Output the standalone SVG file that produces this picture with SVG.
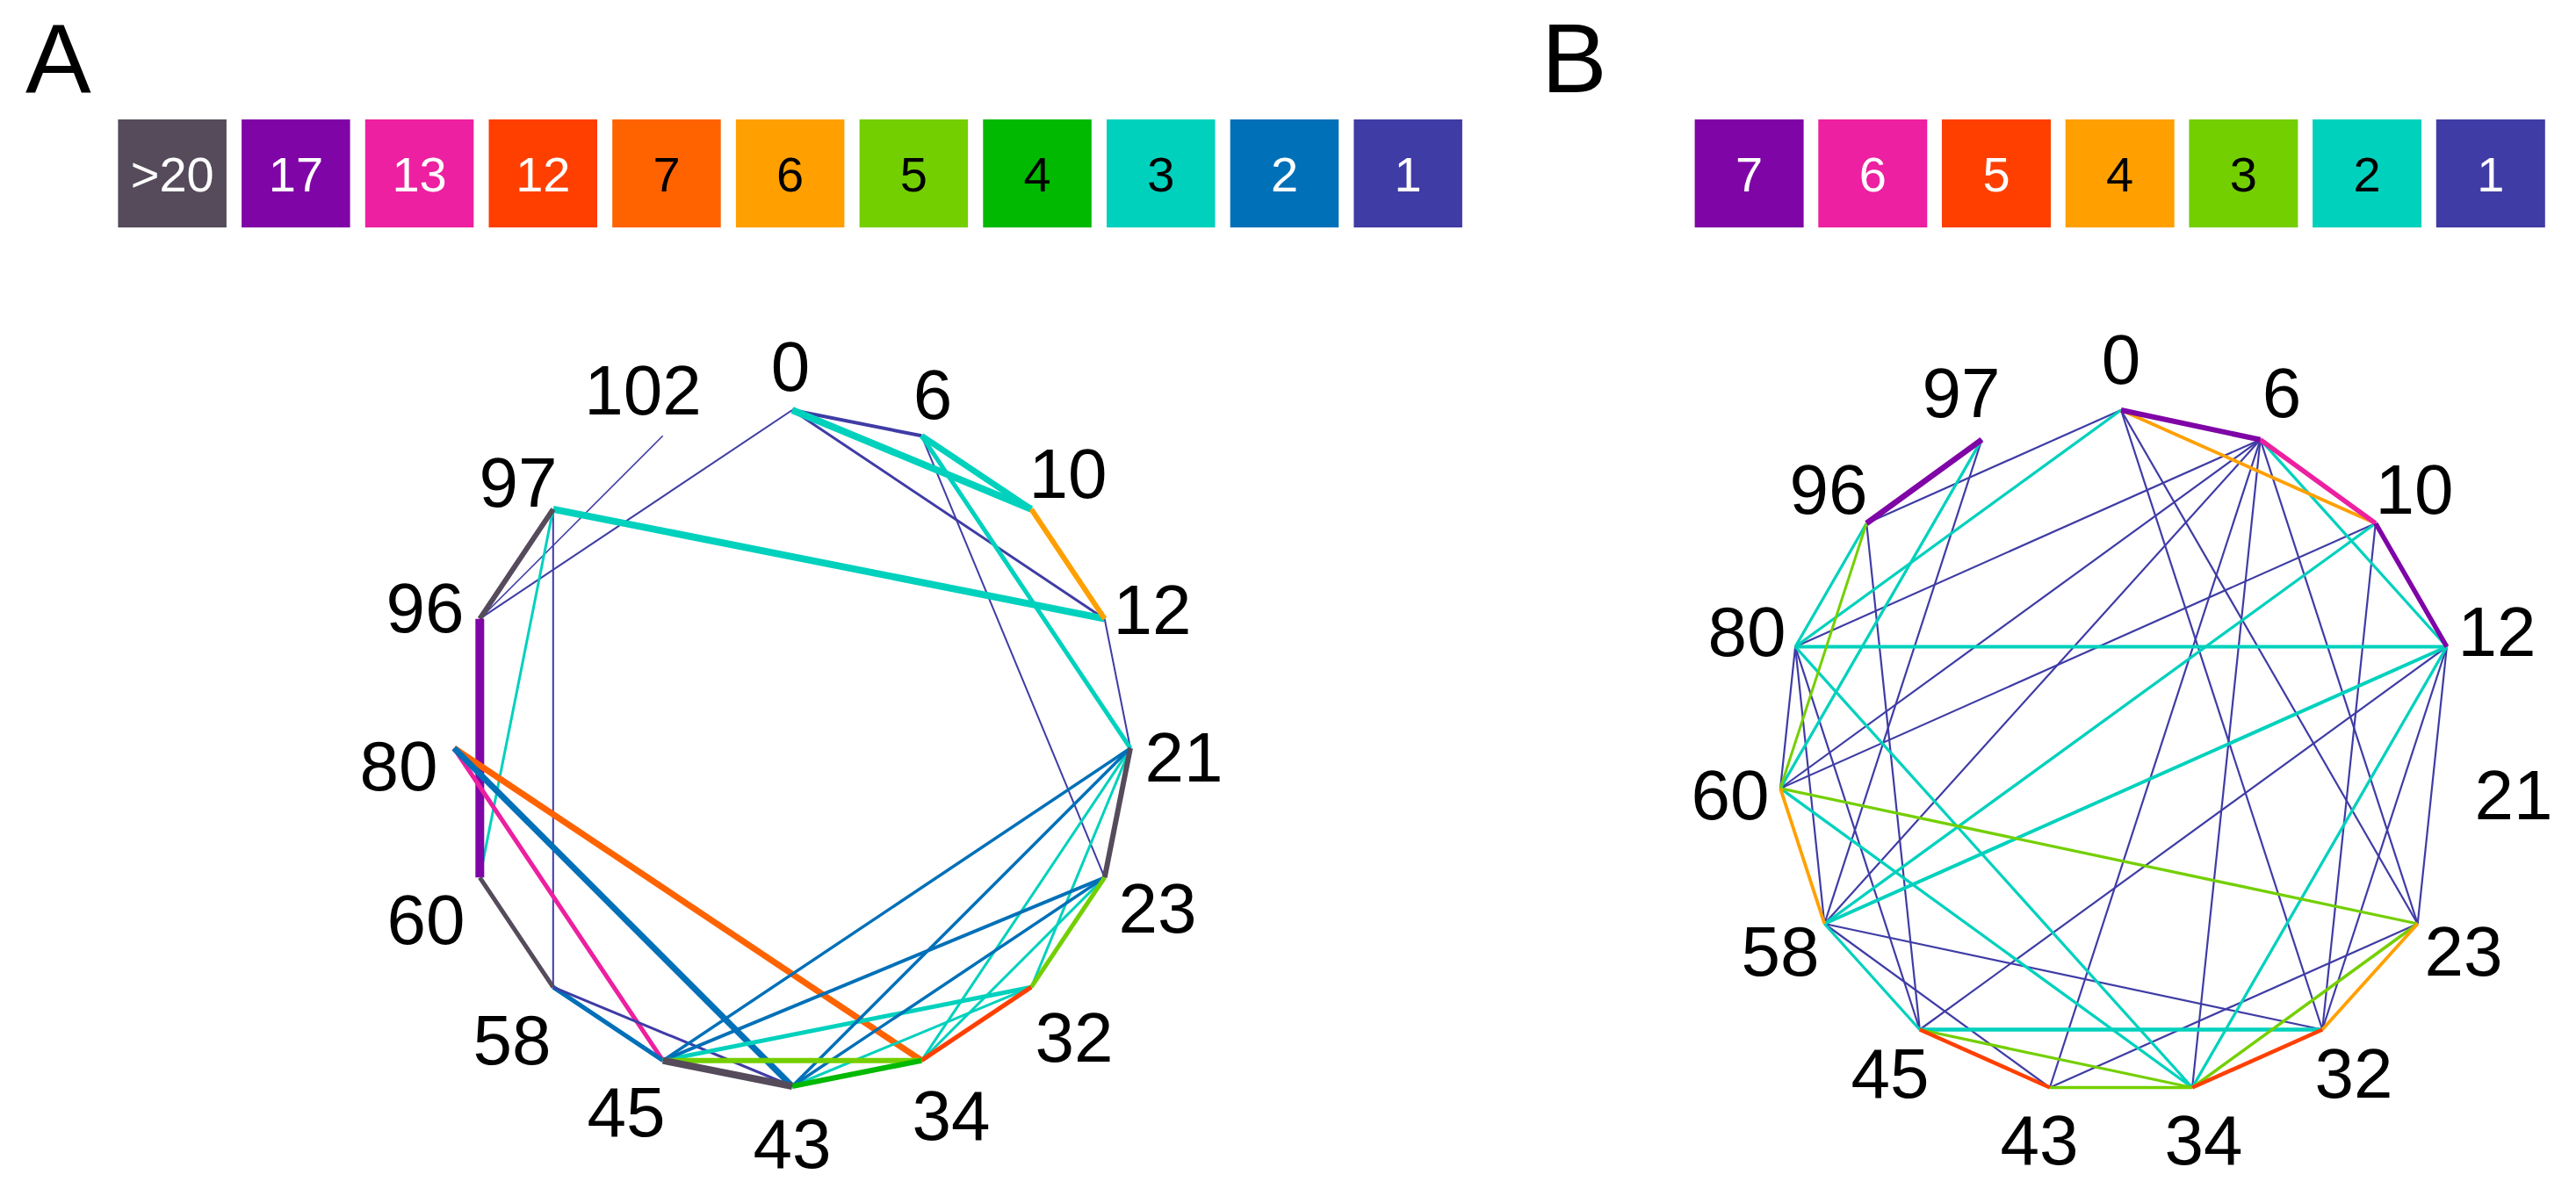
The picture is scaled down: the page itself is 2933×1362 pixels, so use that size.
<svg xmlns="http://www.w3.org/2000/svg" width="2933" height="1362" viewBox="0 0 2933 1362">
<style>
text{font-family:"Liberation Sans",Arial,sans-serif;}
.lbl{font-size:80px;fill:#000;text-anchor:middle;}
.leg{font-size:56px;text-anchor:middle;}
.panel{font-size:112px;fill:#000;}
.w{fill:#fff;} .k{fill:#000;}
line{fill:none;stroke-linecap:butt;}
.s-ind{stroke:#3f3ca5;} .s-blu{stroke:#0070b8;} .s-tur{stroke:#00d1bd;} .s-grn{stroke:#00b900;}
.s-lim{stroke:#74cf00;} .s-amb{stroke:#ffa000;} .s-org{stroke:#ff6300;} .s-red{stroke:#ff3f00;}
.s-pnk{stroke:#ec20a0;} .s-pur{stroke:#7f05a6;} .s-gry{stroke:#554b5a;}
.f-ind{fill:#3f3ca5;} .f-blu{fill:#0070b8;} .f-tur{fill:#00d1bd;} .f-grn{fill:#00b900;}
.f-lim{fill:#74cf00;} .f-amb{fill:#ffa000;} .f-org{fill:#ff6300;} .f-red{fill:#ff3f00;}
.f-pnk{fill:#ec20a0;} .f-pur{fill:#7f05a6;} .f-gry{fill:#554b5a;}
</style>
<rect width="2933" height="1362" fill="#fff"/>
<text class="panel" x="29" y="105">A</text>
<text class="panel" x="1755" y="105">B</text>
<g id="legend-A">
<rect class="f-gry" x="134.4" y="136" width="123.5" height="123"/><text class="leg w" x="196.2" y="218">&gt;20</text>
<rect class="f-pur" x="275.1" y="136" width="123.5" height="123"/><text class="leg w" x="336.9" y="218">17</text>
<rect class="f-pnk" x="415.8" y="136" width="123.5" height="123"/><text class="leg w" x="477.6" y="218">13</text>
<rect class="f-red" x="556.5" y="136" width="123.5" height="123"/><text class="leg w" x="618.3" y="218">12</text>
<rect class="f-org" x="697.2" y="136" width="123.5" height="123"/><text class="leg k" x="759" y="218">7</text>
<rect class="f-amb" x="837.9" y="136" width="123.5" height="123"/><text class="leg k" x="899.7" y="218">6</text>
<rect class="f-lim" x="978.6" y="136" width="123.5" height="123"/><text class="leg k" x="1040.4" y="218">5</text>
<rect class="f-grn" x="1119.3" y="136" width="123.5" height="123"/><text class="leg k" x="1181.1" y="218">4</text>
<rect class="f-tur" x="1260" y="136" width="123.5" height="123"/><text class="leg k" x="1321.8" y="218">3</text>
<rect class="f-blu" x="1400.7" y="136" width="123.5" height="123"/><text class="leg w" x="1462.5" y="218">2</text>
<rect class="f-ind" x="1541.4" y="136" width="123.5" height="123"/><text class="leg w" x="1603.2" y="218">1</text>
</g>
<g id="legend-B">
<rect class="f-pur" x="1929.6" y="136" width="124" height="123"/><text class="leg w" x="1991.6" y="218">7</text>
<rect class="f-pnk" x="2070.3" y="136" width="124" height="123"/><text class="leg w" x="2132.3" y="218">6</text>
<rect class="f-red" x="2211" y="136" width="124" height="123"/><text class="leg w" x="2273" y="218">5</text>
<rect class="f-amb" x="2351.7" y="136" width="124" height="123"/><text class="leg k" x="2413.7" y="218">4</text>
<rect class="f-lim" x="2492.4" y="136" width="124" height="123"/><text class="leg k" x="2554.4" y="218">3</text>
<rect class="f-tur" x="2633.1" y="136" width="124" height="123"/><text class="leg k" x="2695.1" y="218">2</text>
<rect class="f-ind" x="2773.8" y="136" width="124" height="123"/><text class="leg w" x="2835.8" y="218">1</text>
</g>
<g id="connectors-A">
<line class="s-ind" stroke-width="2" x1="902" y1="467" x2="546.3" y2="704.7"/>
<line class="s-ind" stroke-width="1.6" x1="754.7" y1="496.3" x2="546.3" y2="704.7"/>
<line class="s-ind" stroke-width="2" x1="629.8" y1="579.8" x2="629.8" y2="1124.2"/>
<line class="s-tur" stroke-width="3" x1="629.8" y1="579.8" x2="546.3" y2="999.3"/>
<line class="s-ind" stroke-width="2" x1="1049.3" y1="496.3" x2="1257.7" y2="999.3"/>
<line class="s-ind" stroke-width="2" x1="1257.7" y1="704.7" x2="1287" y2="852"/>
<line class="s-ind" stroke-width="3" x1="902" y1="467" x2="1257.7" y2="704.7"/>
<line class="s-ind" stroke-width="4" x1="902" y1="467" x2="1049.3" y2="496.3"/>
<line class="s-tur" stroke-width="5" x1="1049.3" y1="496.3" x2="1287" y2="852"/>
<line class="s-tur" stroke-width="7" x1="1049.3" y1="496.3" x2="1174.2" y2="579.8"/>
<line class="s-tur" stroke-width="8" x1="902" y1="467" x2="1174.2" y2="579.8"/>
<line class="s-tur" stroke-width="8" x1="629.8" y1="579.8" x2="1257.7" y2="704.7"/>
<line class="s-amb" stroke-width="6" x1="1174.2" y1="579.8" x2="1257.7" y2="704.7"/>
<line class="s-gry" stroke-width="6" x1="629.8" y1="579.8" x2="546.3" y2="704.7"/>
<line class="s-pur" stroke-width="10" x1="546.3" y1="704.7" x2="546.3" y2="999.3"/>
<line class="s-gry" stroke-width="5" x1="546.3" y1="999.3" x2="629.8" y2="1124.2"/>
<line class="s-org" stroke-width="7" x1="517" y1="852" x2="1049.3" y2="1207.7"/>
<line class="s-pnk" stroke-width="5" x1="517" y1="852" x2="754.7" y2="1207.7"/>
<line class="s-blu" stroke-width="7" x1="517" y1="852" x2="902" y2="1237"/>
<line class="s-blu" stroke-width="5" x1="629.8" y1="1124.2" x2="754.7" y2="1207.7"/>
<line class="s-ind" stroke-width="3" x1="629.8" y1="1124.2" x2="902" y2="1237"/>
<line class="s-tur" stroke-width="3" x1="1257.7" y1="999.3" x2="1049.3" y2="1207.7"/>
<line class="s-tur" stroke-width="3" x1="1287" y1="852" x2="1049.3" y2="1207.7"/>
<line class="s-tur" stroke-width="3" x1="1287" y1="852" x2="1174.2" y2="1124.2"/>
<line class="s-tur" stroke-width="3" x1="1174.2" y1="1124.2" x2="902" y2="1237"/>
<line class="s-tur" stroke-width="5" x1="1174.2" y1="1124.2" x2="754.7" y2="1207.7"/>
<line class="s-blu" stroke-width="3.5" x1="1287" y1="852" x2="754.7" y2="1207.7"/>
<line class="s-blu" stroke-width="3.5" x1="1287" y1="852" x2="902" y2="1237"/>
<line class="s-blu" stroke-width="4" x1="1257.7" y1="999.3" x2="754.7" y2="1207.7"/>
<line class="s-blu" stroke-width="3.5" x1="1257.7" y1="999.3" x2="902" y2="1237"/>
<line class="s-gry" stroke-width="6" x1="1287" y1="852" x2="1257.7" y2="999.3"/>
<line class="s-lim" stroke-width="5" x1="1257.7" y1="999.3" x2="1174.2" y2="1124.2"/>
<line class="s-red" stroke-width="5" x1="1174.2" y1="1124.2" x2="1049.3" y2="1207.7"/>
<line class="s-lim" stroke-width="6" x1="754.7" y1="1207.7" x2="1049.3" y2="1207.7"/>
<line class="s-grn" stroke-width="6" x1="902" y1="1237" x2="1049.3" y2="1207.7"/>
<line class="s-gry" stroke-width="8" x1="754.7" y1="1207.7" x2="902" y2="1237"/>
</g>
<g id="nodes-A">
<g id="A-n0"><text class="lbl" x="900" y="445">0</text></g>
<g id="A-n102"><text class="lbl" x="732" y="472">102</text></g>
<g id="A-n6"><text class="lbl" x="1062" y="477">6</text></g>
<g id="A-n10"><text class="lbl" x="1216" y="567">10</text></g>
<g id="A-n12"><text class="lbl" x="1312" y="722">12</text></g>
<g id="A-n21"><text class="lbl" x="1348" y="890">21</text></g>
<g id="A-n23"><text class="lbl" x="1318" y="1062">23</text></g>
<g id="A-n32"><text class="lbl" x="1223" y="1209">32</text></g>
<g id="A-n34"><text class="lbl" x="1083" y="1298">34</text></g>
<g id="A-n43"><text class="lbl" x="902" y="1330">43</text></g>
<g id="A-n45"><text class="lbl" x="713" y="1294">45</text></g>
<g id="A-n58"><text class="lbl" x="583" y="1212">58</text></g>
<g id="A-n60"><text class="lbl" x="485" y="1075">60</text></g>
<g id="A-n80"><text class="lbl" x="454" y="900">80</text></g>
<g id="A-n96"><text class="lbl" x="484" y="720">96</text></g>
<g id="A-n97"><text class="lbl" x="590" y="577">97</text></g>
</g>
<g id="connectors-B">
<line class="s-ind" stroke-width="2.2" x1="2415" y1="467" x2="2125.2" y2="596"/>
<line class="s-ind" stroke-width="2.2" x1="2415" y1="467" x2="2644.2" y2="1172.5"/>
<line class="s-ind" stroke-width="2.2" x1="2415" y1="467" x2="2752.7" y2="1052"/>
<line class="s-ind" stroke-width="2.2" x1="2573.6" y1="500.7" x2="2044.1" y2="736.5"/>
<line class="s-ind" stroke-width="2.2" x1="2573.6" y1="500.7" x2="2027.1" y2="897.8"/>
<line class="s-ind" stroke-width="2.2" x1="2573.6" y1="500.7" x2="2077.3" y2="1052"/>
<line class="s-ind" stroke-width="2.2" x1="2573.6" y1="500.7" x2="2333.9" y2="1238.5"/>
<line class="s-ind" stroke-width="2.2" x1="2573.6" y1="500.7" x2="2496.1" y2="1238.5"/>
<line class="s-ind" stroke-width="2.2" x1="2573.6" y1="500.7" x2="2752.7" y2="1052"/>
<line class="s-ind" stroke-width="2.2" x1="2704.8" y1="596" x2="2027.1" y2="897.8"/>
<line class="s-ind" stroke-width="2.2" x1="2704.8" y1="596" x2="2644.2" y2="1172.5"/>
<line class="s-ind" stroke-width="2.2" x1="2785.9" y1="736.5" x2="2185.8" y2="1172.5"/>
<line class="s-ind" stroke-width="2.2" x1="2785.9" y1="736.5" x2="2644.2" y2="1172.5"/>
<line class="s-ind" stroke-width="2.2" x1="2785.9" y1="736.5" x2="2752.7" y2="1052"/>
<line class="s-ind" stroke-width="2.2" x1="2125.2" y1="596" x2="2185.8" y2="1172.5"/>
<line class="s-ind" stroke-width="2.2" x1="2256.4" y1="500.7" x2="2077.3" y2="1052"/>
<line class="s-ind" stroke-width="2.2" x1="2044.1" y1="736.5" x2="2027.1" y2="897.8"/>
<line class="s-ind" stroke-width="2.2" x1="2044.1" y1="736.5" x2="2077.3" y2="1052"/>
<line class="s-ind" stroke-width="2.2" x1="2044.1" y1="736.5" x2="2185.8" y2="1172.5"/>
<line class="s-ind" stroke-width="2.2" x1="2077.3" y1="1052" x2="2333.9" y2="1238.5"/>
<line class="s-ind" stroke-width="2.2" x1="2077.3" y1="1052" x2="2644.2" y2="1172.5"/>
<line class="s-ind" stroke-width="2.2" x1="2333.9" y1="1238.5" x2="2752.7" y2="1052"/>
<line class="s-tur" stroke-width="3.3" x1="2415" y1="467" x2="2044.1" y2="736.5"/>
<line class="s-tur" stroke-width="3.3" x1="2573.6" y1="500.7" x2="2785.9" y2="736.5"/>
<line class="s-tur" stroke-width="3.3" x1="2704.8" y1="596" x2="2077.3" y2="1052"/>
<line class="s-tur" stroke-width="4" x1="2785.9" y1="736.5" x2="2044.1" y2="736.5"/>
<line class="s-tur" stroke-width="4" x1="2785.9" y1="736.5" x2="2077.3" y2="1052"/>
<line class="s-tur" stroke-width="3.3" x1="2785.9" y1="736.5" x2="2496.1" y2="1238.5"/>
<line class="s-tur" stroke-width="3.3" x1="2125.2" y1="596" x2="2044.1" y2="736.5"/>
<line class="s-tur" stroke-width="3.3" x1="2256.4" y1="500.7" x2="2027.1" y2="897.8"/>
<line class="s-tur" stroke-width="3.3" x1="2044.1" y1="736.5" x2="2496.1" y2="1238.5"/>
<line class="s-tur" stroke-width="3.3" x1="2027.1" y1="897.8" x2="2496.1" y2="1238.5"/>
<line class="s-tur" stroke-width="3.3" x1="2077.3" y1="1052" x2="2185.8" y2="1172.5"/>
<line class="s-tur" stroke-width="4.5" x1="2185.8" y1="1172.5" x2="2644.2" y2="1172.5"/>
<line class="s-lim" stroke-width="3" x1="2125.2" y1="596" x2="2027.1" y2="897.8"/>
<line class="s-lim" stroke-width="3.3" x1="2027.1" y1="897.8" x2="2752.7" y2="1052"/>
<line class="s-lim" stroke-width="3.3" x1="2185.8" y1="1172.5" x2="2496.1" y2="1238.5"/>
<line class="s-lim" stroke-width="3.3" x1="2333.9" y1="1238.5" x2="2496.1" y2="1238.5"/>
<line class="s-lim" stroke-width="3.5" x1="2496.1" y1="1238.5" x2="2752.7" y2="1052"/>
<line class="s-amb" stroke-width="3.8" x1="2415" y1="467" x2="2704.8" y2="596"/>
<line class="s-amb" stroke-width="3.8" x1="2027.1" y1="897.8" x2="2077.3" y2="1052"/>
<line class="s-amb" stroke-width="3.8" x1="2644.2" y1="1172.5" x2="2752.7" y2="1052"/>
<line class="s-red" stroke-width="4.5" x1="2185.8" y1="1172.5" x2="2333.9" y2="1238.5"/>
<line class="s-red" stroke-width="4.5" x1="2496.1" y1="1238.5" x2="2644.2" y2="1172.5"/>
<line class="s-pnk" stroke-width="5.5" x1="2573.6" y1="500.7" x2="2704.8" y2="596"/>
<line class="s-pur" stroke-width="6" x1="2415" y1="467" x2="2573.6" y2="500.7"/>
<line class="s-pur" stroke-width="5.5" x1="2704.8" y1="596" x2="2785.9" y2="736.5"/>
<line class="s-pur" stroke-width="6.5" x1="2125.2" y1="596" x2="2256.4" y2="500.7"/>
</g>
<g id="nodes-B">
<g id="B-n0"><text class="lbl" x="2415" y="437">0</text></g>
<g id="B-n6"><text class="lbl" x="2598" y="475">6</text></g>
<g id="B-n10"><text class="lbl" x="2749" y="585">10</text></g>
<g id="B-n12"><text class="lbl" x="2843" y="747">12</text></g>
<g id="B-n21"><text class="lbl" x="2862" y="933">21</text></g>
<g id="B-n23"><text class="lbl" x="2805" y="1111">23</text></g>
<g id="B-n32"><text class="lbl" x="2680" y="1250">32</text></g>
<g id="B-n34"><text class="lbl" x="2509" y="1326">34</text></g>
<g id="B-n43"><text class="lbl" x="2322" y="1326">43</text></g>
<g id="B-n45"><text class="lbl" x="2152" y="1250">45</text></g>
<g id="B-n58"><text class="lbl" x="2027" y="1111">58</text></g>
<g id="B-n60"><text class="lbl" x="1970" y="933">60</text></g>
<g id="B-n80"><text class="lbl" x="1989" y="747">80</text></g>
<g id="B-n96"><text class="lbl" x="2082" y="585">96</text></g>
<g id="B-n97"><text class="lbl" x="2233" y="475">97</text></g>
</g>
</svg>
